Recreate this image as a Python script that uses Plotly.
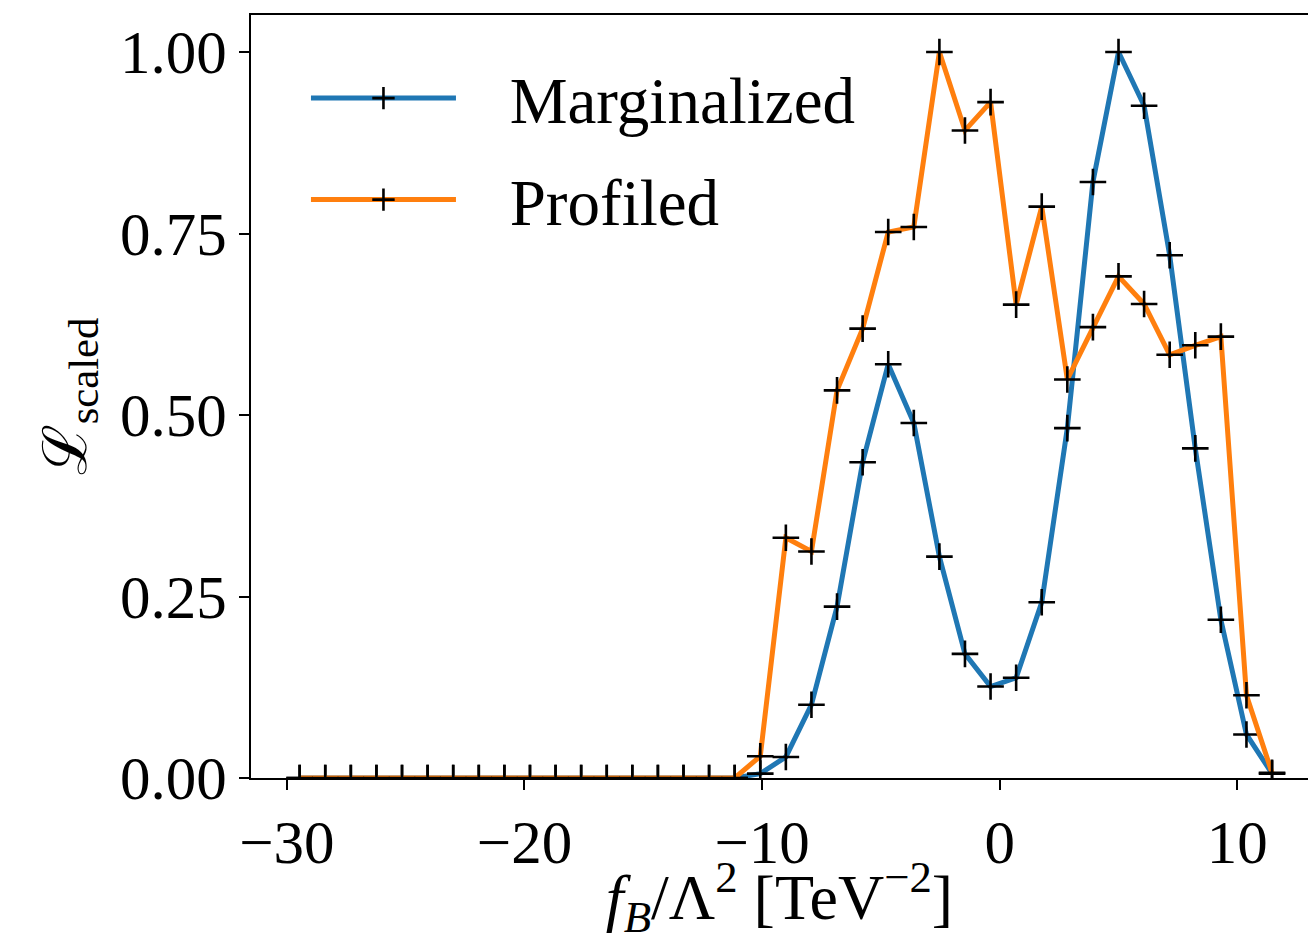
import plotly.graph_objects as go

# bin centres of f_B / Lambda^2 [TeV^-2]
x_vals = [-29.462, -28.385, -27.308, -26.231, -25.154, -24.077, -23.000, -21.923,
          -20.846, -19.769, -18.692, -17.615, -16.538, -15.462, -14.385, -13.308,
          -12.231, -11.154, -10.077, -9.000, -7.923, -6.846, -5.769, -4.692,
          -3.615, -2.538, -1.462, -0.385, 0.692, 1.769, 2.846, 3.923,
          5.000, 6.077, 7.154, 8.231, 9.308, 10.385, 11.462]

marginalized = [0.0] * 18 + [0.006, 0.029, 0.101, 0.236, 0.435, 0.570, 0.489, 0.305,
                             0.171, 0.126, 0.138, 0.242, 0.482, 0.821, 1.000, 0.926,
                             0.720, 0.454, 0.218, 0.060, 0.006]

profiled = [0.0] * 18 + [0.030, 0.331, 0.312, 0.534, 0.619, 0.752, 0.759, 1.000,
                         0.892, 0.931, 0.652, 0.787, 0.549, 0.621, 0.691, 0.653,
                         0.583, 0.596, 0.608, 0.114, 0.007]

series_names = ["Marginalized", "Profiled"]
x_ticks = [-30, -20, -10, 0, 10]
y_ticks = [0.0, 0.25, 0.5, 0.75, 1.0]

FONT = "Liberation Serif"
FS = 61

fig = go.Figure()
marker = dict(symbol="cross-thin", size=19, color="black",
              line=dict(color="black", width=2.6))
fig.add_trace(go.Scatter(x=x_vals, y=marginalized, mode="lines+markers",
                         name="&nbsp;&nbsp;&nbsp;" + series_names[0], legendgroup="a",
                         line=dict(color="#1f77b4", width=5), marker=marker))
fig.add_trace(go.Scatter(x=x_vals, y=profiled, mode="lines+markers",
                         name="&nbsp;&nbsp;&nbsp;" + series_names[1], legendgroup="b",
                         line=dict(color="#ff7f0e", width=5), marker=marker))

fig.update_layout(
    width=1308, height=942,
    margin=dict(l=251, r=0, t=15, b=164),
    paper_bgcolor="white", plot_bgcolor="white",
    font=dict(family=FONT, size=FS, color="black"),
    showlegend=True,
    legend=dict(x=0.052, y=0.955, xanchor="left", yanchor="top",
                bgcolor="rgba(255,255,255,0)", borderwidth=0,
                font=dict(family=FONT, size=65),
                itemwidth=145, tracegroupgap=14, traceorder="grouped"),
    xaxis=dict(range=[-31.51, 12.975], tickmode="array", tickvals=x_ticks,
               showgrid=False, zeroline=False, showline=True, linecolor="black",
               linewidth=2, mirror=True, ticks="outside", ticklen=10, tickwidth=2,
               tickcolor="black", tickfont=dict(family=FONT, size=FS),
               title=dict(text="<i>f</i><sub><i>B</i></sub>/Λ<sup>2</sup> [TeV<sup>−2</sup>]",
                          font=dict(family=FONT, size=64), standoff=12)),
    yaxis=dict(range=[0, 1.051], tickmode="array", tickvals=y_ticks, tickformat=".2f",
               showgrid=False, zeroline=False, showline=True, linecolor="black",
               linewidth=2, mirror=False, ticks="outside", ticklen=10, tickwidth=2,
               tickcolor="black", tickfont=dict(family=FONT, size=FS),
               title=dict(text="ℒ<sub>scaled</sub>",
                          font=dict(family=FONT, size=FS), standoff=14)),
)

fig.write_html("out.html")
